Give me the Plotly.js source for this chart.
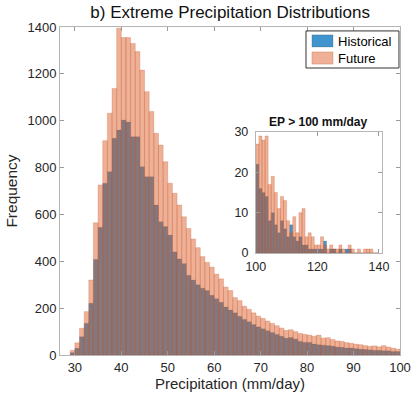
<!DOCTYPE html>
<html>
<head>
<meta charset="utf-8">
<script src="https://cdn.plot.ly/plotly-3.0.1.min.js"></script>
<style>
  html, body { margin: 0; padding: 0; background: #ffffff; }
  #chart { width: 411px; height: 394px; }
</style>
</head>
<body>
<div id="chart"></div>
<script>
// Main histogram: bins of 1 mm/day, left edges 29..99
const binLeft = [29,30,31,32,33,34,35,36,37,38,39,40,41,42,43,44,45,46,47,48,49,50,51,52,53,54,55,56,57,58,59,60,61,62,63,64,65,66,67,68,69,70,71,72,73,74,75,76,77,78,79,80,81,82,83,84,85,86,87,88,89,90,91,92,93,94,95,96,97,98,99];
const historical = [10,29,78,135,221,408,545,733,782,925,960,1003,995,932,932,804,761,761,640,569,548,512,440,410,390,340,320,300,285,275,255,240,225,205,192,180,165,152,142,130,120,112,104,96,88,80,72,75,68,58,54,54,47,44,42,40,38,34,33,30,30,27,25,24,22,20,20,18,18,15,15];
const future = [20,52,114,185,320,564,726,915,1032,1138,1395,1355,1355,1330,1295,1216,1124,1039,946,896,825,733,690,640,590,540,495,458,420,395,375,345,325,290,275,245,232,208,195,180,166,156,145,135,125,115,105,108,100,92,88,85,80,85,72,74,66,60,58,53,50,46,44,40,37,39,35,40,34,29,25];

// Inset: EP > 100 mm/day, bins of 1 mm/day, left edges 100..139
const insetLeft = [100,101,102,103,104,105,106,107,108,109,110,111,112,113,114,115,116,117,118,119,120,121,122,123,124,125,126,127,128,129,130,131,132,133,134,135,136,137,138,139];
const insetHist = [22,16,15,14,8,10,7,5,8,6,4,7,4,3,4,2,2,1,1,1,1,1,3,0,1,1,0,1,0,1,1,0,0,0,0,0,0,0,0,0];
const insetFut = [27,29,28,29,17,19,15,11,14,13,8,5,9,5,10,11,4,5,4,2,2,4,2,1,2,1,1,2,1,0,2,1,0,1,0,1,1,1,0,0];

const seriesNames = ['Historical', 'Future'];
const xTicks = [30,40,50,60,70,80,90,100];
const yTicks = [0,200,400,600,800,1000,1200,1400];

const histColor = 'rgba(0,114,189,0.75)';
const futColor = 'rgba(217,83,25,0.45)';
const centers = a => a.map(v => v + 0.5);

const traces = [
  {type:'bar', name:seriesNames[0], x:centers(binLeft), y:historical, width:1, showlegend:false,
   marker:{color:histColor, line:{color:'rgba(60,60,60,0.25)', width:0.5}}, xaxis:'x', yaxis:'y'},
  {type:'bar', name:seriesNames[1], x:centers(binLeft), y:future, width:1, showlegend:false,
   marker:{color:futColor, line:{color:'rgba(200,90,50,0.45)', width:0.6}}, xaxis:'x', yaxis:'y'},
  {type:'bar', name:seriesNames[0], x:centers(insetLeft), y:insetHist, width:1, showlegend:false,
   marker:{color:histColor, line:{color:'rgba(60,60,60,0.25)', width:0.5}}, xaxis:'x2', yaxis:'y2'},
  {type:'bar', name:seriesNames[1], x:centers(insetLeft), y:insetFut, width:1, showlegend:false,
   marker:{color:futColor, line:{color:'rgba(200,90,50,0.45)', width:0.6}}, xaxis:'x2', yaxis:'y2'}
];

const font = 'Liberation Sans, Arial, sans-serif';
const axisCommon = {
  showline:true, linecolor:'#b5b5b5', linewidth:1, mirror:'ticks',
  ticks:'inside', tickcolor:'#9a9a9a', ticklen:4, showgrid:false, zeroline:false,
  tickfont:{family:font, size:13, color:'#262626'}
};

// Compact legend (box, swatches, labels) in paper coordinates
const legendShapes = [
  {type:'rect', xref:'paper', yref:'paper', x0:0.7235, x1:0.997, y0:0.875, y1:0.988,
   fillcolor:'#ffffff', line:{color:'#333333', width:1}, layer:'above'},
  {type:'rect', xref:'paper', yref:'paper', x0:0.741, x1:0.803, y0:0.939, y1:0.976,
   fillcolor:histColor, line:{color:'rgba(60,60,60,0.35)', width:0.6}, layer:'above'},
  {type:'rect', xref:'paper', yref:'paper', x0:0.741, x1:0.803, y0:0.887, y1:0.924,
   fillcolor:futColor, line:{color:'rgba(200,90,50,0.5)', width:0.6}, layer:'above'}
];
const legendLabels = [
  {text:seriesNames[0], xref:'paper', yref:'paper', x:0.812, y:0.957, xanchor:'left', yanchor:'middle',
   showarrow:false, font:{family:font, size:13, color:'#000'}},
  {text:seriesNames[1], xref:'paper', yref:'paper', x:0.812, y:0.905, xanchor:'left', yanchor:'middle',
   showarrow:false, font:{family:font, size:13, color:'#000'}}
];

const layout = {
  width:411, height:394,
  margin:{l:60, r:11, t:27, b:39},
  paper_bgcolor:'#ffffff', plot_bgcolor:'#ffffff',
  barmode:'overlay', bargap:0,
  showlegend:false,
  title:{text:'b) Extreme Precipitation Distributions', font:{family:font, size:17, color:'#111'},
         x:0.56, xanchor:'center', y:0.985, yanchor:'top'},
  xaxis:Object.assign({}, axisCommon, {domain:[0,1], range:[26.8,100], tickvals:xTicks, ticktext:xTicks.map(String),
     title:{text:'Precipitation (mm/day)', font:{family:font, size:15, color:'#262626'}, standoff:4}}),
  yaxis:Object.assign({}, axisCommon, {domain:[0,1], range:[0,1400], tickvals:yTicks, ticktext:yTicks.map(String),
     title:{text:'Frequency', font:{family:font, size:15.5, color:'#262626'}, standoff:6}}),
  xaxis2:Object.assign({}, axisCommon, {domain:[0.576,0.947], anchor:'y2', range:[100,141], tickvals:[100,120,140],
     ticklabelstandoff:2, tickfont:{family:font, size:12.5, color:'#262626'}}),
  yaxis2:Object.assign({}, axisCommon, {domain:[0.311,0.680], anchor:'x2', range:[0,30], tickvals:[0,10,20,30],
     ticklabelstandoff:4, tickfont:{family:font, size:12.5, color:'#262626'}}),
  shapes:legendShapes,
  annotations:[{text:'<b>EP &gt; 100 mm/day</b>', xref:'paper', yref:'paper', x:0.7615, y:0.683,
     xanchor:'center', yanchor:'bottom', showarrow:false, font:{family:font, size:12, color:'#111'}}].concat(legendLabels)
};

Plotly.newPlot('chart', traces, layout, {displayModeBar:false, staticPlot:true});
</script>
</body>
</html>
